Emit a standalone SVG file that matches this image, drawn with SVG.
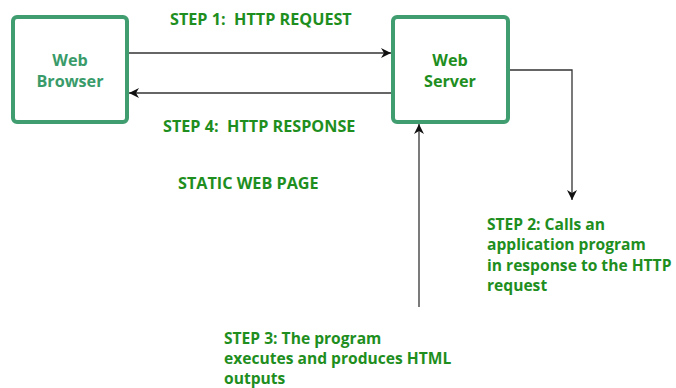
<svg xmlns="http://www.w3.org/2000/svg" width="676" height="388" viewBox="0 0 676 388">
<style>
.box{fill:#fff;stroke:#3f9d6f;stroke-width:4}
.t{font-family:"Open Sans","Liberation Sans",sans-serif;font-weight:bold;font-size:16.2px;fill:#1e8e1e;white-space:pre}
.tb{fill:#3a9b6a}
.m{font-size:15.6px}
.c{fill:none;stroke:#333;stroke-width:1.3}
</style>
<defs>
<marker id="ah" viewBox="0 0 10 10" refX="10" refY="5" markerWidth="10" markerHeight="10" markerUnits="userSpaceOnUse" orient="auto">
<path d="M0,0 L10,5 L0,10 L3,5 Z" fill="#111"/>
</marker>
</defs>
<rect width="676" height="388" fill="#fff"/>
<g id="browser">
<rect class="box" x="13" y="17" width="114" height="105" rx="4"/>
<text class="t tb" x="70" y="66" text-anchor="middle">Web</text>
<text class="t tb" x="70" y="87" text-anchor="middle">Browser</text>
</g>
<g id="server">
<rect class="box" x="393" y="17" width="115" height="105" rx="4"/>
<text class="t" x="450" y="66" text-anchor="middle">Web</text>
<text class="t" x="450" y="87" text-anchor="middle">Server</text>
</g>
<g id="connectors">
<line class="c" x1="129" y1="53" x2="391" y2="53" marker-end="url(#ah)"/>
<line class="c" x1="391" y1="93" x2="129" y2="93" marker-end="url(#ah)"/>
<polyline class="c" points="510,70 572,70 572,200" marker-end="url(#ah)"/>
<line class="c" x1="419" y1="307" x2="419" y2="124" marker-end="url(#ah)"/>
</g>
<g id="labels">
<text class="t" x="170" y="25" xml:space="preserve">STEP 1:  HTTP REQUEST</text>
<text class="t" x="163" y="132" xml:space="preserve">STEP 4:  HTTP RESPONSE</text>
<text class="t" x="178" y="189">STATIC WEB PAGE</text>
<text class="t m" x="487" y="230">STEP 2: Calls an</text>
<text class="t m" x="487" y="250">application program</text>
<text class="t m" x="487" y="271">in response to the HTTP</text>
<text class="t m" x="487" y="291">request</text>
<text class="t m" x="224" y="344">STEP 3: The program</text>
<text class="t m" x="224" y="364">executes and produces HTML</text>
<text class="t m" x="224" y="384">outputs</text>
</g>
</svg>
